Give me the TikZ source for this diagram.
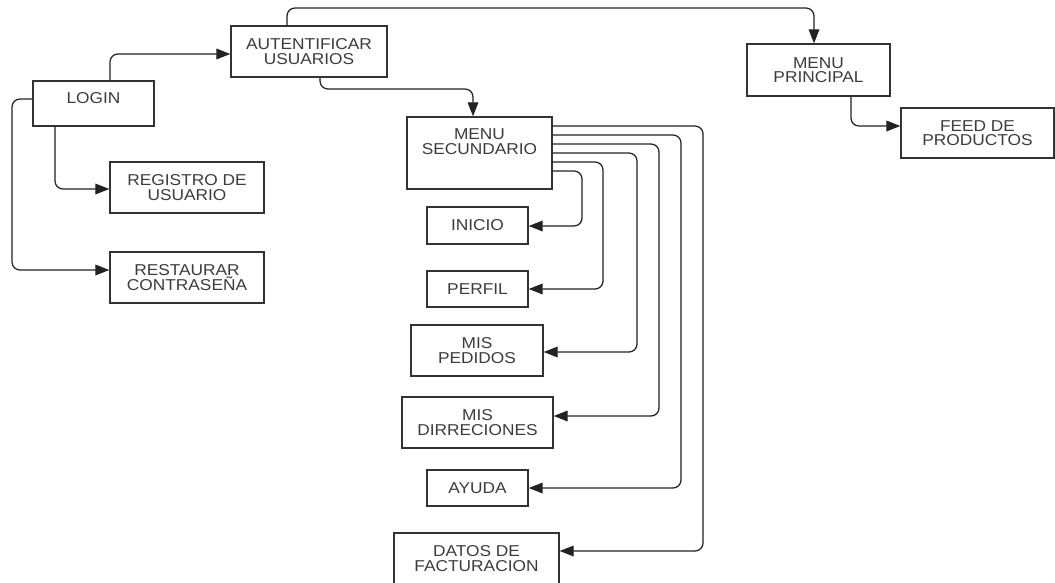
\documentclass[tikz,border=0pt]{standalone}
\usepackage{fontspec}
\setmainfont{Liberation Sans}[FakeStretch=1.1]
\usetikzlibrary{arrows.meta}
\definecolor{boxline}{HTML}{333333}
\definecolor{connline}{HTML}{222222}
\definecolor{labeltext}{HTML}{3C3C3C}
\begin{document}
\begin{tikzpicture}[x=0.75pt,y=-0.75pt,
  box/.style={draw=boxline, line width=1pt, fill=white, inner sep=0pt,
    align=center, text=labeltext, font=\fontsize{11.8}{10.8}\selectfont},
  sz/.style 2 args={minimum width=#1*0.75pt, minimum height=#2*0.75pt},
  conn/.style={draw=connline, line width=0.95pt, rounded corners=6pt,
    -{Triangle[length=10.5pt,width=8pt]}}]
\clip (0,0) rectangle (1055,582);

% boxes
\node[box, sz={121}{45}] (login) at (93.5,103.5) {LOGIN\rule[-8pt]{0pt}{0pt}};
\node[box, sz={156}{51}] (auth)  at (309,51.5) {AUTENTIFICAR\\USUARIOS};
\node[box, sz={154}{51}] (reg)   at (187,187.5) {REGISTRO DE\\USUARIO};
\node[box, sz={154}{51}] (rest)  at (187,277.5) {RESTAURAR\\CONTRASEÑA};
\node[box, sz={145}{72}] (msec)  at (479.5,153) {MENU\\SECUNDARIO\rule[-17pt]{0pt}{0pt}};
\node[box, sz={101}{37}] (inicio) at (477.5,225.5) {INICIO};
\node[box, sz={101}{36}] (perfil) at (477.5,289) {PERFIL};
\node[box, sz={132}{51}] (pedidos) at (477,350.5) {MIS\\PEDIDOS};
\node[box, sz={151}{51}] (dirs)  at (477.5,422.5) {MIS\\DIRRECIONES};
\node[box, sz={101}{36}] (ayuda) at (477.5,488) {AYUDA};
\node[box, sz={165}{51}] (datos) at (476.5,558.5) {DATOS DE\\FACTURACION};
\node[box, sz={143}{52}] (mprin) at (818.5,70) {MENU\\PRINCIPAL};
\node[box, sz={153}{50}] (feed)  at (977.5,133) {FEED DE\\PRODUCTOS};

% login branches
\draw[conn] (login.north -| 110,0) |- (auth.west |- 0,54);
\draw[conn] (login.south -| 55,0) |- (reg.west |- 0,189);
\draw[conn] (login.west |- 0,99) -- (12,99) |- (rest.west |- 0,270);

% authentication branches
\draw[conn] (auth.north -| 287,0) |- (814,8) -- (mprin.north -| 814,0);
\draw[conn] (auth.south -| 320,0) |- (473,89) -- (msec.north -| 473,0);
\draw[conn] (mprin.south -| 851,0) |- (feed.west |- 0,126);

% secondary menu entries
\draw[conn] (msec.east |- 0,171) -| (582,226) -- (inicio.east |- 0,226);
\draw[conn] (msec.east |- 0,162) -| (603,289) -- (perfil.east |- 0,289);
\draw[conn] (msec.east |- 0,153) -| (637,352) -- (pedidos.east |- 0,352);
\draw[conn] (msec.east |- 0,144) -| (659,416) -- (dirs.east |- 0,416);
\draw[conn] (msec.east |- 0,135) -| (681,488) -- (ayuda.east |- 0,488);
\draw[conn] (msec.east |- 0,126) -| (703,551) -- (datos.east |- 0,551);
\end{tikzpicture}
\end{document}
